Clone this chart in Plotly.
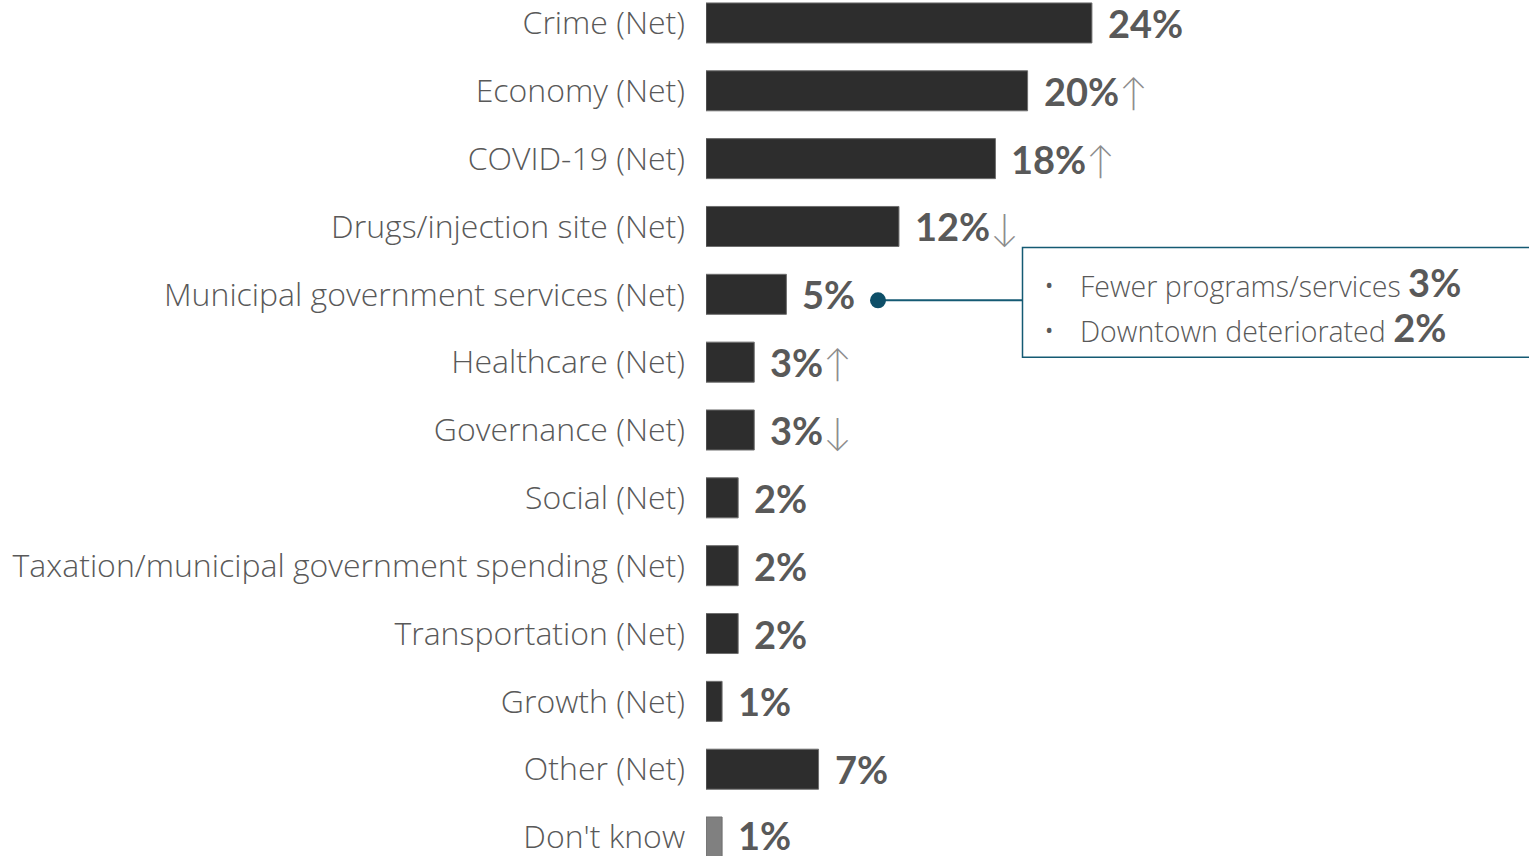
import plotly.graph_objects as go

# Survey results: most important issue (net mentions, %)
categories = [
    "Crime (Net)", "Economy (Net)", "COVID-19 (Net)", "Drugs/injection site (Net)",
    "Municipal government services (Net)", "Healthcare (Net)", "Governance (Net)",
    "Social (Net)", "Taxation/municipal government spending (Net)",
    "Transportation (Net)", "Growth (Net)", "Other (Net)", "Don't know",
]
values = [24, 20, 18, 12, 5, 3, 3, 2, 2, 2, 1, 7, 1]
# change vs. previous wave: "up", "down" or ""
trend = ["", "up", "up", "down", "", "up", "down", "", "", "", "", "", ""]

# breakdown of municipal government services
sub_labels = ["Fewer programs/services", "Downtown deteriorated"]
sub_values = [3, 2]

W, H = 1529, 857
LEFT = 706
PX_PER_PCT = 16.08
ROW = 68
FIRST = 22

DARK = "#2d2d2d"
GREY_BAR = "#808080"
TEXT = "#595959"
ARROW = "#8c8c8c"
TEAL = "#145a73"
VALUE_FONT = "Lato, 'Open Sans', sans-serif"
LABEL_FONT = "'Open Sans', Lato, sans-serif"

bar_colors = [GREY_BAR if c == "Don't know" else DARK for c in categories]

fig = go.Figure(go.Bar(
    x=values, y=categories, orientation="h",
    marker=dict(color=bar_colors, line=dict(color="#6e6e6e", width=1)),
    width=0.59, hoverinfo="skip",
))

arrow_glyph = {"up": "↑", "down": "↓", "": ""}
for cat, v, t in zip(categories, values, trend):
    txt = f"<b>{v}%</b>"
    if t:
        txt += (f"<span style='color:{ARROW};font-size:38px;"
                f"font-weight:300'>{arrow_glyph[t]}</span>")
    fig.add_annotation(
        x=v, y=cat, xref="x", yref="y", text=txt, showarrow=False,
        xanchor="left", yanchor="middle", xshift=14,
        yshift=2 if cat == "Don't know" else 0,
        font=dict(family=VALUE_FONT, size=38, color=TEXT),
    )

# callout for municipal government services
plot_w = W - LEFT
def px(xp):
    return (xp - LEFT) / plot_w
def py(yp):
    return 1 - yp / H

fig.add_shape(type="rect", xref="paper", yref="paper",
              x0=px(1022.5), x1=px(1540), y0=py(247), y1=py(357),
              line=dict(color=TEAL, width=1.5), fillcolor="white")
fig.add_shape(type="line", xref="paper", yref="paper",
              x0=px(878), x1=px(1022), y0=py(300), y1=py(300),
              line=dict(color=TEAL, width=2))
fig.add_shape(type="circle", xref="paper", yref="paper",
              x0=px(870), x1=px(886), y0=py(292), y1=py(308),
              line=dict(color="#0e4f68", width=0), fillcolor="#0e4f68")

for i, (lab, v) in enumerate(zip(sub_labels, sub_values)):
    yc = 282 + 45 * i
    fig.add_annotation(
        x=px(1043), y=py(yc + 2), xref="paper", yref="paper", showarrow=False,
        xanchor="left", yanchor="middle", text="•",
        font=dict(family=LABEL_FONT, size=22, color=TEXT),
    )
    fig.add_annotation(
        x=px(1078), y=py(yc), xref="paper", yref="paper", showarrow=False,
        xanchor="left", yanchor="middle",
        text=(f"{lab} <b><span style='font-size:38px;font-family:Lato'>"
              f"{v}%</span></b>"),
        font=dict(family=LABEL_FONT, size=28.5, color=TEXT, weight=300),
    )

y_top = -FIRST / ROW
y_bot = (H - FIRST) / ROW
fig.update_layout(
    width=W, height=H,
    margin=dict(l=LEFT, r=0, t=0, b=0),
    paper_bgcolor="white", plot_bgcolor="white",
    showlegend=False,
    xaxis=dict(range=[0, plot_w / PX_PER_PCT], visible=False, fixedrange=True),
    yaxis=dict(
        categoryorder="array", categoryarray=categories,
        range=[y_bot, y_top], showgrid=False, zeroline=False,
        showline=False, ticks="", ticklabelstandoff=20,
        tickfont=dict(family=LABEL_FONT, size=32, color=TEXT, weight=300),
        fixedrange=True,
    ),
)

fig.write_html("out.html")
